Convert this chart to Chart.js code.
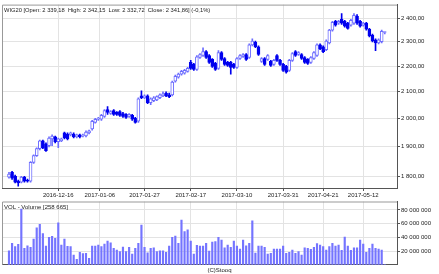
<!DOCTYPE html>
<html><head><meta charset="utf-8">
<script src="https://cdn.jsdelivr.net/npm/chart.js@4.4.1/dist/chart.umd.min.js"></script>
<style>
html,body{margin:0;padding:0;background:#fff;}
#wrap{position:relative;width:439px;height:274px;overflow:hidden;background:#fff;}
#main{position:absolute;left:0;top:0;}
#vol{position:absolute;left:0;top:196px;}
</style></head><body>
<div id="wrap"><canvas id="main" width="439" height="200"></canvas><canvas id="vol" width="439" height="78"></canvas></div>
<script>
// ---- data (daily WIG20 candles, oldest first) ----
const open = [1797,1813,1800,1784,1781,1797,1788,1784,1846,1869,
  1893,1920,1910,1903,1927,1934,1917,1920,1948,1944,
  1941,1944,1934,1941,1937,1937,1948,1962,1986,1997,
  1997,2007,2033,2018,2029,2022,2025,2018,2015,2007,
  2011,2000,1990,2084,2077,2084,2058,2066,2069,2077,
  2084,2095,2088,2088,2141,2156,2168,2172,2179,2215,
  2207,2187,2235,2243,2259,2243,2227,2211,2191,2255,
  2231,2215,2215,2207,2195,2231,2239,2247,2235,2287,
  2299,2279,2219,2231,2227,2219,2207,2243,2223,2207,
  2199,2183,2223,2259,2247,2247,2235,2227,2215,2231,
  2243,2287,2279,2267,2295,2349,2387,2379,2396,2387,
  2379,2370,2379,2409,2387,2370,2379,2353,2328,2308,
  2295,2300,2339.18];
const high = [1813,1816,1804,1788,1800,1800,1791,1849,1872,1896,
  1923,1923,1913,1934,1941,1937,1930,1930,1951,1948,
  1951,1948,1944,1944,1944,1955,1958,1993,2000,2004,
  2015,2033,2044,2029,2033,2025,2029,2022,2018,2018,
  2015,2004,2077,2103,2088,2088,2077,2081,2084,2092,
  2099,2099,2095,2141,2164,2172,2183,2187,2195,2223,
  2211,2243,2251,2275,2263,2247,2231,2215,2263,2259,
  2235,2219,2219,2211,2235,2247,2251,2251,2291,2312,
  2303,2283,2235,2235,2247,2223,2227,2247,2227,2211,
  2203,2227,2255,2263,2259,2251,2239,2231,2239,2259,
  2291,2291,2283,2308,2353,2387,2392,2392,2421,2392,
  2383,2396,2421,2417,2392,2383,2383,2357,2332,2312,
  2312,2349,2342.15];
const low = [1794,1790,1778,1768,1778,1781,1781,1781,1843,1866,
  1889,1893,1883,1899,1903,1913,1896,1917,1927,1923,
  1937,1930,1930,1930,1934,1934,1944,1958,1983,1993,
  1993,2004,2015,2015,2011,2011,2007,2004,2000,2004,
  1993,1983,1986,2073,2073,2055,2051,2062,2066,2073,
  2081,2081,2077,2084,2137,2152,2164,2168,2176,2187,
  2183,2183,2231,2239,2231,2211,2195,2183,2187,2223,
  2203,2199,2168,2191,2191,2227,2235,2223,2231,2283,
  2275,2243,2215,2203,2223,2199,2203,2219,2203,2179,
  2172,2179,2219,2239,2243,2227,2211,2207,2211,2227,
  2239,2267,2255,2263,2291,2345,2366,2374,2374,2362,
  2353,2366,2374,2374,2362,2366,2349,2320,2299,2263,
  2291,2295,2332.72];
const close = [1807,1794,1781,1778,1797,1784,1784,1846,1869,1893,
  1920,1896,1886,1930,1937,1917,1927,1927,1930,1927,
  1948,1934,1941,1934,1939,1951,1955,1990,1997,2000,
  2011,2029,2022,2025,2015,2015,2011,2007,2004,2015,
  1997,1986,2073,2077,2084,2058,2073,2077,2081,2088,
  2092,2084,2081,2137,2160,2168,2179,2183,2191,2191,
  2187,2238,2247,2259,2235,2215,2199,2187,2255,2227,
  2207,2203,2195,2195,2231,2243,2247,2227,2287,2303,
  2279,2247,2231,2207,2243,2203,2223,2223,2207,2183,
  2176,2223,2251,2243,2255,2231,2215,2211,2235,2255,
  2287,2271,2259,2303,2349,2383,2370,2387,2379,2366,
  2357,2392,2413,2379,2366,2379,2353,2324,2303,2295,
  2308,2344,2341.86];
// volume in millions of shares
const volume = [20.4,31.2,26.3,29.8,81.3,24,27.7,25.4,37.5,54,
  59,45.3,27.3,40,41.5,38.5,61,28.8,37.5,26.9,
  26.3,14.2,7.9,18.1,16.1,16.6,9.3,27.3,27.3,28.8,
  26.3,30.2,34.6,32.1,23.9,21.5,19,25.8,19,25.4,
  15.6,23.9,31.2,58,25.4,17.5,23.9,24.8,19,20.4,
  20.4,18.1,27.3,40,41.9,31.2,65.3,48.2,51.1,34.6,
  15.6,28.3,27.3,27.3,31.2,20,33.1,33.6,40,36,
  24.8,28.8,25.4,34.6,27.3,22.9,36,27.7,31.2,64.2,
  17.1,27.3,27.3,25.4,15.6,16.6,22.9,22.9,22.9,27.3,
  16.6,18.1,21.5,16.6,19,14.2,24.8,23.9,22.5,25.4,
  30.7,28.8,26.3,21.5,26.3,31.2,27.3,28.8,21,40.4,
  27.3,21,24.8,24.8,36,30.2,18.1,23.9,30.2,23.9,
  22.9,21.5,0.258665];
const dateTickLabels = ['2016-12-16','2017-01-06','2017-01-27','2017-02-17','2017-03-10','2017-03-31','2017-04-21','2017-05-12'];
const dateTickPos = [16, 29.5, 44, 59, 74, 89, 102, 115];
const priceTicks = [1800,1900,2000,2100,2200,2300,2400];
const volTicks = [20,40,60,80];
const titleText = 'WIG20 [Open: 2 339,18  High: 2 342,15  Low: 2 332,72  Close: 2 341,86] (-0,1%)';
const volTitle = 'VOL - Volume [258 665]';
const credit = '(C)Stooq';

// ---- rendering ----
const FAM = '"Liberation Sans", Arial, sans-serif';
const FONT = {family: FAM, size: 6};
const TXT = '#222';
const GRID = '#e3e3e3';
const AXIS = '#555';
const UP = '#6c6cff', DOWN = '#0000ee';
const XMIN = -2.27, XMAX = 125.97;
const idx = open.map((_, i) => i);
const isUp = idx.map(i => close[i] >= open[i]);

function group(n) { return String(Math.round(n)).replace(/\B(?=(\d{3})+(?!\d))/g, ' '); }

const framePlugin = {
  id: 'frame',
  afterDraw(chart) {
    const {ctx, chartArea: a} = chart;
    ctx.save();
    ctx.strokeStyle = '#999';
    ctx.lineWidth = 1;
    ctx.beginPath();
    ctx.moveTo(a.left + 0.5, a.bottom);
    ctx.lineTo(a.left + 0.5, a.top + 0.5);
    ctx.lineTo(a.right, a.top + 0.5);
    ctx.stroke();
    const t = chart.options.plugins.frame || {};
    ctx.fillStyle = TXT;
    ctx.textBaseline = 'alphabetic';
    if (t.title) { ctx.font = (t.titleSize || 6) + 'px ' + FAM; ctx.textAlign = 'left'; ctx.fillText(t.title, a.left + 2, a.top + 7.5); }
    ctx.font = '6px ' + FAM;
    if (t.credit) { ctx.textAlign = 'center'; ctx.fillText(t.credit, 219.5, t.creditY); }
    ctx.restore();
  }
};

const xCommon = (showLabels) => ({
  type: 'linear', min: XMIN, max: XMAX, offset: false,
  afterBuildTicks: s => { s.ticks = dateTickPos.map(v => ({value: v})); },
  afterFit: s => { s.height = showLabels ? 12 : 0; },
  ticks: {display: showLabels, autoSkip: false, maxRotation: 0, font: FONT, color: TXT, padding: 1,
          callback: (v, i) => dateTickLabels[i]},
  grid: {color: GRID, offset: false, drawTicks: showLabels, tickLength: 3, tickColor: AXIS},
  border: {color: AXIS}
});

new Chart(document.getElementById('main'), {
  type: 'bar',
  data: {datasets: [
    {data: idx.map(i => ({x: i, y: [open[i], close[i]]})),
     backgroundColor: isUp.map(u => u ? '#ffffff' : DOWN),
     borderColor: isUp.map(u => u ? UP : DOWN),
     borderWidth: 1, borderSkipped: false, barThickness: 3, grouped: false, minBarLength: 1},
    {data: idx.map(i => ({x: i, y: [low[i], high[i]]})),
     backgroundColor: isUp.map(u => u ? UP : DOWN),
     borderWidth: 0, barThickness: 1, grouped: false}
  ]},
  options: {
    responsive: false, animation: false, devicePixelRatio: 1,
    layout: {padding: {left: 2, top: 1, right: 0, bottom: 0}},
    plugins: {legend: {display: false}, tooltip: {enabled: false}, frame: {title: titleText, titleSize: 5.75}},
    scales: {
      x: xCommon(true),
      y: {type: 'logarithmic', position: 'right', min: 1762, max: 2461,
          afterBuildTicks: s => { s.ticks = priceTicks.map(v => ({value: v})); },
          afterFit: s => { s.width = 42; },
          ticks: {font: FONT, color: TXT, padding: 1, callback: v => group(v) + ',00'},
          grid: {color: GRID, tickLength: 3, tickColor: AXIS},
          border: {color: AXIS}}
    }
  },
  plugins: [framePlugin]
});

new Chart(document.getElementById('vol'), {
  type: 'bar',
  data: {datasets: [
    {data: idx.map(i => ({x: i, y: volume[i]})), backgroundColor: '#7474ff', barThickness: 1.5}
  ]},
  options: {
    responsive: false, animation: false, devicePixelRatio: 1,
    layout: {padding: {left: 2, top: 5.5, right: 0, bottom: 9.3}},
    plugins: {legend: {display: false}, tooltip: {enabled: false},
              frame: {title: volTitle, credit: credit, creditY: 75.5}},
    scales: {
      x: xCommon(false),
      y: {type: 'linear', position: 'right', min: 0, max: 92.3,
          afterBuildTicks: s => { s.ticks = volTicks.map(v => ({value: v})); },
          afterFit: s => { s.width = 42; },
          ticks: {font: FONT, color: TXT, padding: 1, callback: v => group(v * 1e6)},
          grid: {color: GRID, tickLength: 3, tickColor: AXIS},
          border: {color: AXIS}}
    }
  },
  plugins: [framePlugin]
});
</script>
</body></html>
